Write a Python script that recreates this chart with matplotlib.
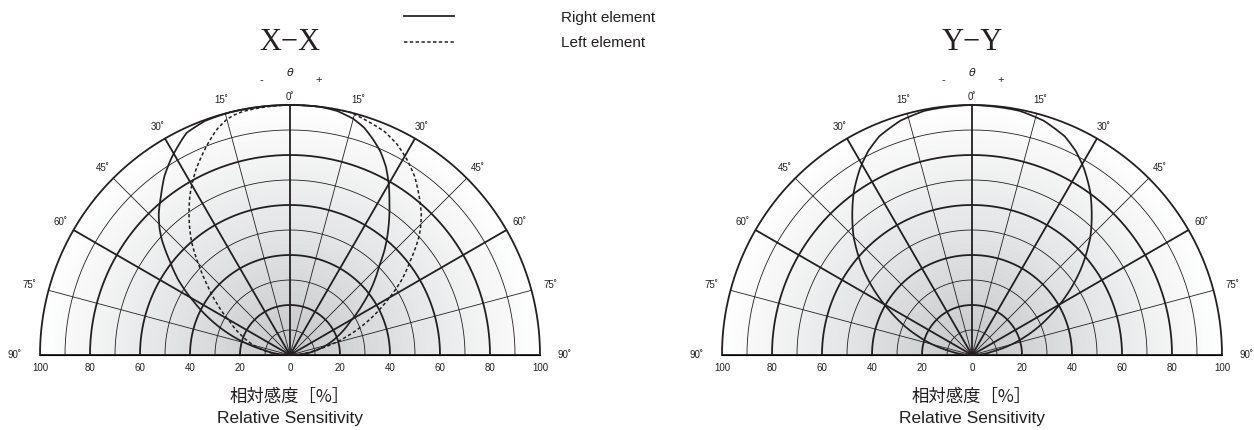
import numpy as np
import matplotlib
matplotlib.use("Agg")
import matplotlib.pyplot as plt
from matplotlib.colors import LinearSegmentedColormap

plt.rcParams['font.family'] = ['Liberation Sans', 'DejaVu Sans']

# X-X, left element (dotted), degrees / relative sensitivity %
xx_left_deg = [-90, -83, -75, -68, -61, -55, -50, -46, -41, -37, -32, -27, -24, -21, -18,
               -15, -13, -11, -7, 0, 7, 14, 23, 27, 31, 35, 39, 43, 46, 48, 52, 56,
               61, 67, 73, 79, 85, 90]
xx_left_val = [0, 8, 15, 21, 27.5, 35.5, 43, 50, 60, 67, 75.5, 83, 87, 91, 94.8,
               97.6, 98.6, 99.2, 99.6, 100, 100, 100, 97, 94.5, 91, 87, 82, 77, 72.5, 69, 61, 54,
               44, 33, 22, 11, 5, 0]

# X-X, right element (solid)
xx_right_deg = [-90, -85, -79, -73, -67, -61, -56, -52, -48, -46, -43, -39, -35, -31, -28,
                -25, -20, -14, -7, 0, 7, 11, 15, 18, 21, 24, 27, 30, 33, 36, 39, 42, 45,
                50, 55, 61, 68, 75, 83, 90]
xx_right_val = [0, 5, 11, 22, 33, 44, 54, 61, 69, 72.5, 77, 82, 87.5, 92, 95,
                98, 99.6, 100, 100, 100, 100, 99.4, 97.8, 95.7, 92.5, 89, 84.5, 79, 73, 67.5, 62, 56.5, 50.5,
                43, 35.5, 27.5, 21, 15, 8, 0]

# Y-Y
yy_deg = [-90, -80, -71, -62, -52, -45, -40, -36, -31, -27, -23, -17, -11, 0,
          11, 17, 23, 27, 31, 36, 40, 45, 52, 62, 71, 80, 90]
yy_val = [0, 9, 22.5, 37, 55, 67, 74.5, 80.5, 87, 91.5, 95, 98, 99.5, 100,
          99.5, 98, 95, 91.5, 87, 80.5, 74.5, 67, 55, 37, 22.5, 9, 0]

grid_angles = list(range(-90, 91, 15))
grid_radii = list(range(10, 101, 10))
scale_labels = [20, 40, 60, 80, 100]

ink = '#231f20'
thick = 1.3
thin = 0.6
bg_cmap = LinearSegmentedColormap.from_list('bg', ['#c6c7c9', '#e4e5e6', '#ffffff'])

W, H = 1254, 430
fig = plt.figure(figsize=(W / 100, H / 100), dpi=100)


def curve(ax, deg, val, **kw):
    line, = ax.plot(np.radians(deg), val, color=ink, zorder=3, clip_on=False, **kw)
    # draw each segment as an arc in (theta, r) instead of a straight chord
    line.get_path()._interpolation_steps = 24
    return line


def panel(cx, title):
    R = 250
    base = 355
    # polar wedge is fitted centred in a square box: half disc sits in the middle half
    ax = fig.add_axes([(cx - R) / W, (H - base - 0.5 * R) / H, 2 * R / W, 2 * R / H],
                      projection='polar')
    ax.set_theta_zero_location('N')
    ax.set_theta_direction(-1)
    ax.set_thetamin(-90)
    ax.set_thetamax(90)
    ax.set_ylim(0, 100)
    ax.set_xticks([])
    ax.set_yticks([])
    ax.grid(False)
    for s in ax.spines.values():
        s.set_visible(False)
    ax.patch.set_visible(False)

    th = np.radians(np.linspace(-90, 90, 361))
    rr = np.linspace(0, 100, 101)
    T, RR = np.meshgrid(th, rr)
    ax.pcolormesh(T, RR, RR, cmap=bg_cmap, vmin=0, vmax=100, shading='gouraud', zorder=0)

    for r in grid_radii:
        ax.plot(th, np.full_like(th, r), color=ink, lw=thick if r % 20 == 0 else thin,
                zorder=1, clip_on=False)
    for a in grid_angles:
        ax.plot([np.radians(a)] * 2, [0, 100], color=ink,
                lw=thick if a % 30 == 0 else thin, zorder=1, solid_capstyle='butt',
                clip_on=False)

    lab_r = {0: 103, 15: 105.5, 30: 105.5, 45: 106, 60: 106, 75: 108, 90: 110}
    for a in grid_angles:
        ax.text(np.radians(a), lab_r[abs(a)], f'{abs(a)}\u02da', ha='center', va='center',
                fontsize=7, color=ink)

    ax.text(0, 113, r'$\theta$', ha='center', va='center', fontsize=8, color=ink)
    ax.text(np.radians(-6), 110.6, '-', ha='center', va='center', fontsize=8, color=ink)
    ax.text(np.radians(6), 110.6, '+', ha='center', va='center', fontsize=8, color=ink)
    ax.text(0, 125, title, ha='center', va='center', fontsize=22, color=ink,
            family=['Liberation Serif', 'DejaVu Serif'])

    ax.annotate('0', (0, 0), xytext=(0, -13), textcoords='offset pixels',
                ha='center', va='center', fontsize=7, color=ink)
    for r in scale_labels:
        for a in (-90, 90):
            ax.annotate(str(r), (np.radians(a), r), xytext=(0, -13),
                        textcoords='offset pixels', ha='center', va='center',
                        fontsize=7, color=ink)

    ax.annotate('相対感度［%］', (0, 0), xytext=(0, -42), textcoords='offset pixels',
                ha='center', va='center', fontsize=12.5, color=ink,
                family=['Noto Sans CJK JP', 'DejaVu Sans'])
    ax.annotate('Relative Sensitivity', (0, 0), xytext=(0, -64), textcoords='offset pixels',
                ha='center', va='center', fontsize=12.5, color=ink)
    return ax


ax1 = panel(290, 'X\u2212X')
solid = curve(ax1, xx_right_deg, xx_right_val, lw=1.25)
dotted = curve(ax1, xx_left_deg, xx_left_val, lw=1.1, ls=(0, (2.2, 1.6)))

ax2 = panel(972, 'Y\u2212Y')
curve(ax2, yy_deg, yy_val, lw=1.25)

fig.legend(handles=[solid, dotted], labels=['Right element', 'Left element'],
           loc='upper left', bbox_to_anchor=(390 / W, 1 + 3 / H), frameon=False,
           fontsize=11, handlelength=3.3, handletextpad=7.0, labelspacing=0.75,
           labelcolor=ink)

fig.savefig('out.png', dpi=100)
